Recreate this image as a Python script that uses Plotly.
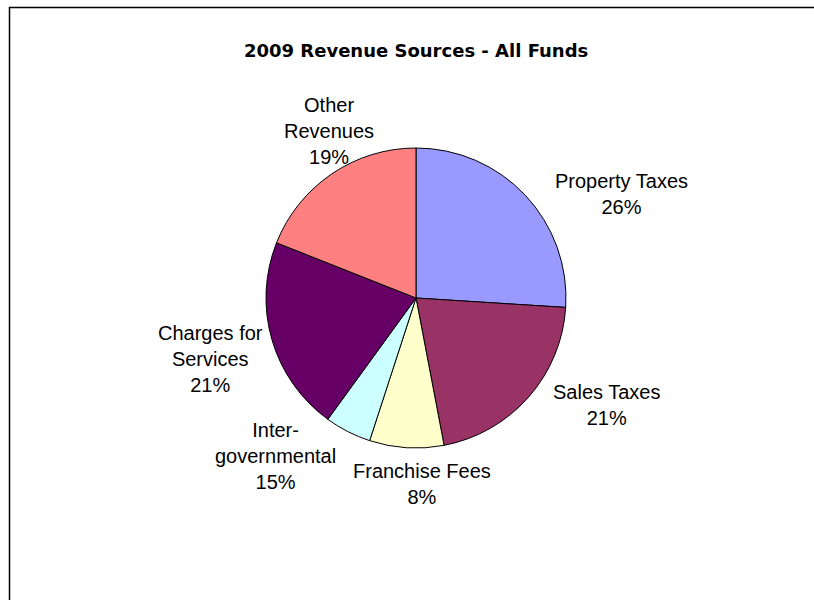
import math
import plotly.graph_objects as go

# Revenue sources, share of all funds (percent)
categories = ["Property Taxes", "Sales Taxes", "Franchise Fees",
              "Inter-<br>governmental", "Charges for<br>Services", "Other<br>Revenues"]
shares = [26, 21, 8, 5, 21, 19]
share_labels = ["26%", "21%", "8%", "15%", "21%", "19%"]
colors = ["#9999FF", "#993366", "#FFFFCC", "#CCFFFF", "#660066", "#FF8080"]

W, H = 814, 600
cx, cy, r = 416, 298, 150          # pie centre and radius in pixels
label_radius = r + 60              # where slice labels sit, before fine offsets
# fine pixel offsets for each slice label (dx right, dy down)
label_offsets = [(52, 40), (33, -32), (19, -24), (-45, -29), (-4, 2), (31, 7)]

fig = go.Figure(go.Pie(
    labels=categories,
    values=shares,
    textinfo="none",
    sort=False,
    direction="clockwise",
    rotation=0,
    marker=dict(colors=colors, line=dict(color="black", width=1)),
    domain=dict(x=[(cx - r) / W, (cx + r) / W],
                y=[(H - cy - r) / H, (H - cy + r) / H]),
    hoverinfo="label+percent",
))

# slice labels placed around the pie at each slice's mid-angle
total = sum(shares)
annotations = []
cum = 0.0
for name, val, txt, (dx, dy) in zip(categories, shares, share_labels, label_offsets):
    mid = 2 * math.pi * (cum + val / 2) / total   # clockwise from 12 o'clock
    cum += val
    px = cx + label_radius * math.sin(mid) + dx
    py = cy - label_radius * math.cos(mid) + dy
    annotations.append(dict(
        text=f"{name}<br>{txt}",
        x=px / W, y=1 - py / H, xref="paper", yref="paper",
        xanchor="center", yanchor="middle", align="center", showarrow=False,
        font=dict(family="Liberation Sans, Arial", size=20, color="black"),
    ))

annotations.append(dict(
    text="<b>2009 Revenue Sources - All Funds</b>",
    x=cx / W, y=1 - 51 / H, xref="paper", yref="paper",
    xanchor="center", yanchor="middle", showarrow=False,
    font=dict(family="DejaVu Sans", size=18, color="black"),
))

fig.update_layout(
    width=W, height=H,
    margin=dict(l=0, r=0, t=0, b=0),
    paper_bgcolor="white",
    showlegend=False,
    annotations=annotations,
    shapes=[dict(
        type="rect", xref="paper", yref="paper",
        x0=9.5 / W, x1=1.05, y0=-0.05, y1=1 - 7.5 / H,
        line=dict(color="black", width=1.5),
    )],
)

fig.write_html("out.html")
